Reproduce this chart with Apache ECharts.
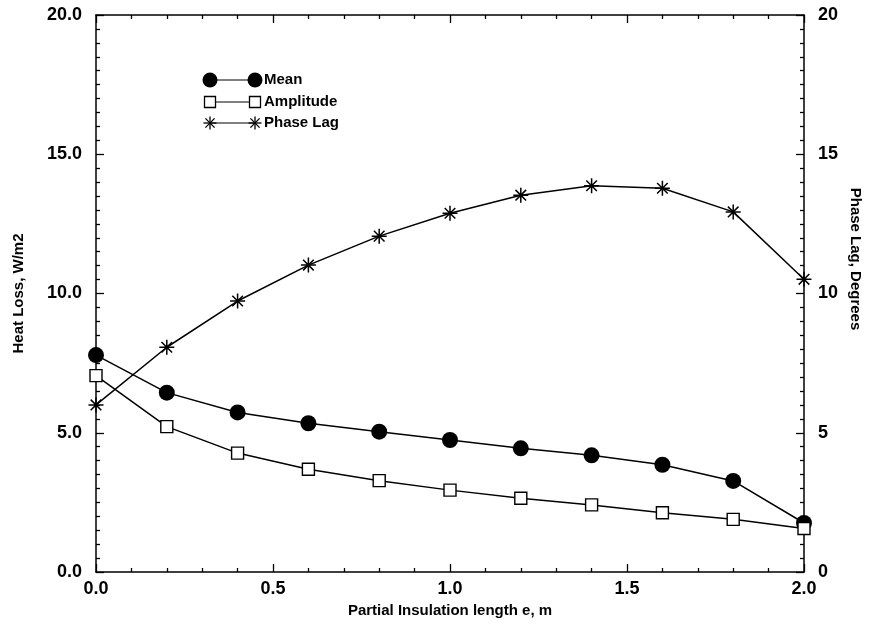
<!DOCTYPE html>
<html>
<head>
<meta charset="utf-8">
<style>html,body{margin:0;padding:0;background:#fff;}#chart{width:869px;height:632px;}</style>
<script src="https://cdn.jsdelivr.net/npm/echarts@6/dist/echarts.min.js"></script>
</head>
<body>
<div id="chart"></div>
<script>
var xValues = [0.0, 0.2, 0.4, 0.6, 0.8, 1.0, 1.2, 1.4, 1.6, 1.8, 2.0];
var meanValues = [7.79, 6.44, 5.73, 5.34, 5.04, 4.74, 4.44, 4.19, 3.85, 3.27, 1.76];
var amplitudeValues = [7.05, 5.22, 4.27, 3.69, 3.28, 2.94, 2.65, 2.41, 2.13, 1.89, 1.56];
var phaseLagValues = [6.0, 8.07, 9.73, 11.02, 12.06, 12.88, 13.53, 13.87, 13.78, 12.93, 10.51];
var seriesNames = ['Mean', 'Amplitude', 'Phase Lag'];

function pairs(xs, ys) { return xs.map(function (x, i) { return [x, ys[i]]; }); }

var FONT = 'Liberation Sans, Arial, Helvetica, sans-serif';
var STAR = 'path://M0,-10L0,10M-10,0L10,0M-7.07,-7.07L7.07,7.07M-7.07,7.07L7.07,-7.07';

var chart = echarts.init(document.getElementById('chart'), null, { renderer: 'canvas' });

var tickLabel = { color: '#000', fontFamily: FONT, fontWeight: 'bold', fontSize: 18 };
var axisLine = { show: true, onZero: false, lineStyle: { color: '#000', width: 1.5 } };
var majorTick = { show: true, inside: true, length: 8, lineStyle: { color: '#000', width: 1.3 } };
function minorTick(n) { return { show: true, splitNumber: n, length: 4, lineStyle: { color: '#000', width: 1.3 } }; }

function legendItem(y, name, symbol, size) {
  var x1 = 210, x2 = 255;
  var sym = function (cx) {
    if (symbol === 'circle') {
      return { type: 'circle', shape: { cx: cx, cy: y, r: size / 2 }, style: { fill: '#000' } };
    } else if (symbol === 'rect') {
      return { type: 'rect', shape: { x: cx - size / 2, y: y - size / 2, width: size, height: size }, style: { fill: '#fff', stroke: '#000', lineWidth: 1.3 } };
    } else {
      var r = size / 2, d = r * 0.707;
      return { type: 'group', children: [
        { type: 'line', shape: { x1: cx, y1: y - r, x2: cx, y2: y + r }, style: { stroke: '#000', lineWidth: 1.3 } },
        { type: 'line', shape: { x1: cx - r, y1: y, x2: cx + r, y2: y }, style: { stroke: '#000', lineWidth: 1.3 } },
        { type: 'line', shape: { x1: cx - d, y1: y - d, x2: cx + d, y2: y + d }, style: { stroke: '#000', lineWidth: 1.3 } },
        { type: 'line', shape: { x1: cx - d, y1: y + d, x2: cx + d, y2: y - d }, style: { stroke: '#000', lineWidth: 1.3 } }
      ] };
    }
  };
  return { type: 'group', children: [
    { type: 'line', shape: { x1: x1, y1: y, x2: x2, y2: y }, style: { stroke: '#000', lineWidth: 1 } },
    sym(x1), sym(x2),
    { type: 'text', x: x2 + 9, y: y, style: { text: name, fill: '#000', font: 'bold 15px ' + FONT, verticalAlign: 'middle' } }
  ] };
}

var option = {
  animation: false,
  backgroundColor: '#fff',
  grid: { left: 96, right: 65, top: 15, bottom: 60, containLabel: false },
  xAxis: [{
    type: 'value', position: 'bottom', min: 0, max: 2, interval: 0.5,
    name: 'Partial Insulation length e, m', nameLocation: 'middle', nameGap: 30,
    nameTextStyle: { color: '#000', fontFamily: FONT, fontWeight: 'bold', fontSize: 15 },
    axisLine: axisLine, axisTick: majorTick, minorTick: minorTick(5),
    axisLabel: Object.assign({ margin: 8, formatter: function (v) { return v.toFixed(1); } }, tickLabel),
    splitLine: { show: false }
  }, {
    type: 'value', position: 'top', min: 0, max: 2, interval: 0.5,
    axisLine: axisLine, axisTick: majorTick, minorTick: minorTick(5),
    axisLabel: { show: false }, splitLine: { show: false }
  }],
  yAxis: [{
    type: 'value', min: 0, max: 20, interval: 5, position: 'left',
    name: 'Heat Loss, W/m2', nameLocation: 'middle', nameGap: 70,
    nameTextStyle: { color: '#000', fontFamily: FONT, fontWeight: 'bold', fontSize: 15 },
    axisLine: axisLine, axisTick: majorTick, minorTick: minorTick(10),
    axisLabel: Object.assign({ margin: 14, formatter: function (v) { return v.toFixed(1); } }, tickLabel),
    splitLine: { show: false }
  }, {
    type: 'value', min: 0, max: 20, interval: 5, position: 'right',
    axisLine: axisLine, axisTick: majorTick, minorTick: minorTick(10),
    axisLabel: Object.assign({ margin: 14 }, tickLabel),
    splitLine: { show: false }
  }],
  series: [{
    name: seriesNames[0], type: 'line', xAxisIndex: 0, yAxisIndex: 0,
    data: pairs(xValues, meanValues),
    symbol: 'circle', symbolSize: 16,
    lineStyle: { color: '#000', width: 1.5 },
    itemStyle: { color: '#000', borderWidth: 0 }
  }, {
    name: seriesNames[1], type: 'line', xAxisIndex: 0, yAxisIndex: 0,
    data: pairs(xValues, amplitudeValues),
    symbol: 'rect', symbolSize: 12,
    lineStyle: { color: '#000', width: 1.5 },
    itemStyle: { color: '#fff', borderColor: '#000', borderWidth: 1.4 }
  }, {
    name: seriesNames[2], type: 'line', xAxisIndex: 0, yAxisIndex: 1,
    data: pairs(xValues, phaseLagValues),
    symbol: STAR, symbolSize: 15,
    lineStyle: { color: '#000', width: 1.5 },
    itemStyle: { color: 'none', borderColor: '#000', borderWidth: 1.5 }
  }],
  graphic: [
    legendItem(80, seriesNames[0], 'circle', 15),
    legendItem(102, seriesNames[1], 'rect', 11),
    legendItem(123, seriesNames[2], 'star', 13),
    { type: 'text', x: 855, y: 259, rotation: -Math.PI / 2,
      style: { text: 'Phase Lag, Degrees', fill: '#000', font: 'bold 15px ' + FONT, align: 'center', verticalAlign: 'middle' } }
  ]
};
chart.setOption(option);
</script>
</body>
</html>
